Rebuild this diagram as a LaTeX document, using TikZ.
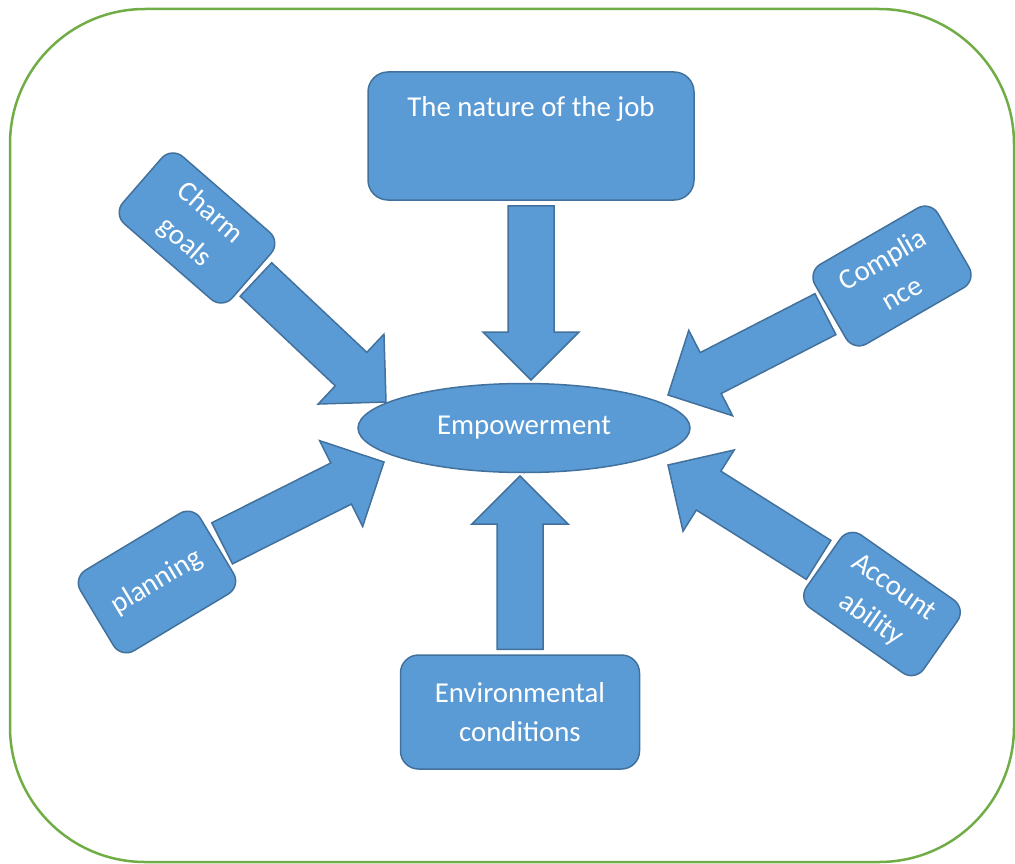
\documentclass[tikz,border=0pt]{standalone}
\usepackage{fontspec}
\setmainfont{Carlito}
\usepackage{tikz}
\usetikzlibrary{calc}
\usetikzlibrary{shapes.geometric}

\definecolor{boxfill}{HTML}{5B9BD5}
\definecolor{boxline}{HTML}{41719C}
\definecolor{framegreen}{HTML}{70AD47}

\newcommand{\blockarrow}[2]{%
\coordinate (bs) at ($(#1)!5pt!(#2)$);
\coordinate (bh) at ($(#2)!48pt!(#1)$);
\draw[arrowbody] ($(bs)!23pt!90:(#2)$) -- ($(bh)!23pt!90:(#2)$) -- ($(bh)!48pt!90:(#2)$) -- (#2) -- ($(bh)!48pt!-90:(#2)$) -- ($(bh)!23pt!-90:(#2)$) -- ($(bs)!23pt!-90:(#2)$) -- cycle;
}

\begin{document}
\begin{tikzpicture}[x=1pt,y=-1pt,
  blue box/.style={draw=boxline,fill=boxfill,line width=1.5pt,text=white,align=center,inner sep=0pt,font=\fontsize{28.8pt}{39pt}\selectfont},
  arrowbody/.style={draw=boxline,fill=boxfill,line width=1.5pt,line join=miter}]
\useasboundingbox (0,0) rectangle (1015,864);
\draw[framegreen,line width=2.5pt,rounded corners=135pt] (10,9) rectangle (1014,862);
\node (job) at (531,136) [blue box,rounded corners=20pt,minimum width=326pt,text height=45pt,text depth=83pt] {The nature of the job};
\node (emp) at (524,428) [blue box,ellipse,minimum width=332pt,minimum height=89pt] {Empowerment};
\node (env) at (520,712) [blue box,rounded corners=18pt,minimum width=239pt,minimum height=114pt] {Environmental\\conditions};
\node (charm) at (197,228) [blue box,rounded corners=15pt,minimum width=145pt,minimum height=89pt,rotate=-41] {Charm\\goals};
\node (compl) at (892,276) [blue box,rounded corners=15pt,minimum width=142pt,minimum height=92pt,rotate=30] {Complia\\nce};
\node (plan) at (157,582) [blue box,rounded corners=15pt,minimum width=140pt,minimum height=94pt,rotate=31] {planning};
\node (acct) at (882,604) [blue box,rounded corners=15pt,minimum width=143pt,minimum height=89pt,rotate=-35] {Account\\ability};
\coordinate (tjob) at (531,380);
\coordinate (tenv) at (520,476);
\coordinate (tcharm) at (386,402);
\coordinate (tcompl) at (668,395);
\coordinate (tplan) at (384,462);
\coordinate (tacct) at (668,465);
\foreach \s/\t in {job.south/tjob,env.north/tenv,charm.east/tcharm,compl.west/tcompl,plan.east/tplan,acct.west/tacct} {
\blockarrow{\s}{\t}
}
\end{tikzpicture}
\end{document}
